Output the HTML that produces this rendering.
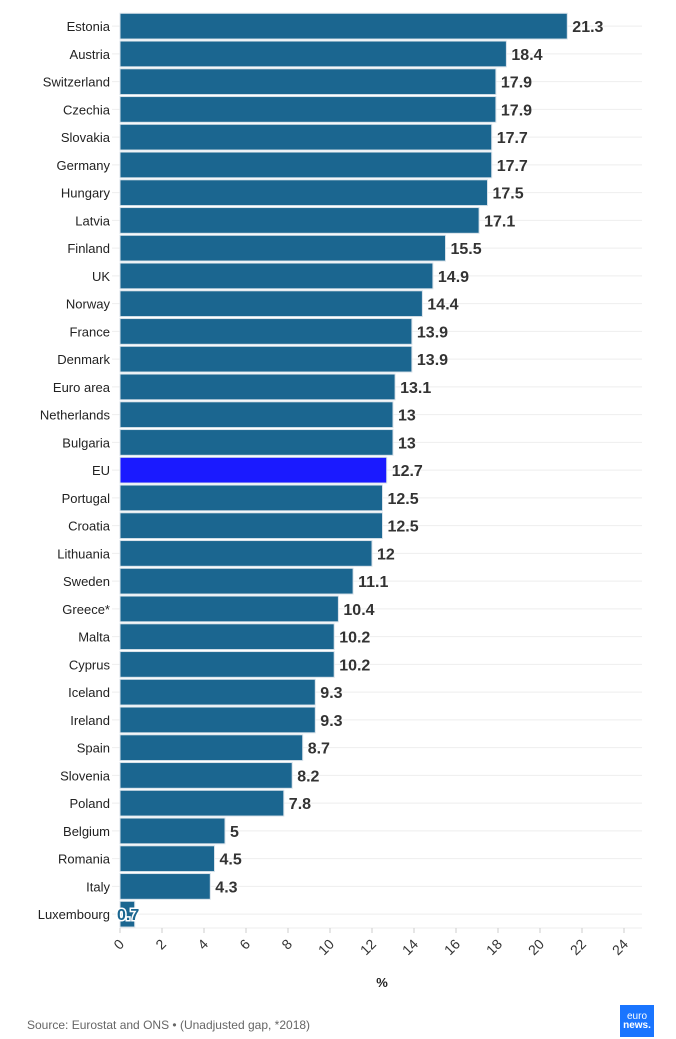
<!DOCTYPE html>
<html><head><meta charset="utf-8"><style>
body{margin:0;width:676px;height:1039px;background:#fff;font-family:"Liberation Sans","DejaVu Sans",sans-serif;overflow:hidden}
</style></head><body>
<svg id="c" width="676" height="1039" style="position:absolute;left:0;top:0"></svg>
<div style="position:absolute;left:27px;top:1018px;font-size:12px;color:#666">Source: Eurostat and ONS • (Unadjusted gap, *2018)</div>
<div style="position:absolute;left:620px;top:1005px;width:34px;height:32px;background:#1a75ff;color:#fff;font-size:10px;line-height:9px;padding-top:7px;box-sizing:border-box;text-align:center">euro<br><b>news.</b></div>
<script>
const countries=["Estonia","Austria","Switzerland","Czechia","Slovakia","Germany","Hungary","Latvia","Finland","UK","Norway","France","Denmark","Euro area","Netherlands","Bulgaria","EU","Portugal","Croatia","Lithuania","Sweden","Greece*","Malta","Cyprus","Iceland","Ireland","Spain","Slovenia","Poland","Belgium","Romania","Italy","Luxembourg"];
const values=[21.3,18.4,17.9,17.9,17.7,17.7,17.5,17.1,15.5,14.9,14.4,13.9,13.9,13.1,13,13,12.7,12.5,12.5,12,11.1,10.4,10.2,10.2,9.3,9.3,8.7,8.2,7.8,5,4.5,4.3,0.7];
const ticks=[0,2,4,6,8,10,12,14,16,18,20,22,24];
const NS="http://www.w3.org/2000/svg",svg=document.getElementById("c");
const x=v=>120+v*21, band=27.75, y0=12.3;
function mk(t,a,txt){const e=document.createElementNS(NS,t);for(const k in a)e.setAttribute(k,a[k]);if(txt!=null)e.textContent=txt;svg.appendChild(e);return e;}
countries.forEach((c,i)=>{
 const yc=y0+i*band+band/2;
 const g=mk("line",{x1:112,x2:642,y1:yc,y2:yc,stroke:"#eee"});
 
});
const ax=mk("line",{x1:120,x2:642,y1:928,y2:928,stroke:"#eee"});

countries.forEach((c,i)=>{
 const yt=y0+i*band+1, yc=y0+i*band+band/2;
 const r=mk("rect",{x:120,y:yt,width:x(values[i])-120,height:band-2,fill:c==="EU"?"#1a1aff":"#1b6690",stroke:"#d8e2ea","stroke-width":1});
 
 
 const l=mk("text",{x:110,y:yc+5,"text-anchor":"end","font-size":13,fill:"#222"},c);
 
 const small=values[i]<2;
 const v=mk("text",{x:small?117:x(values[i])+5,y:yc+6,"font-size":16,"font-weight":"bold",fill:small?"#1b6690":"#333",stroke:small?"#fff":"none","stroke-width":small?3:0,"paint-order":"stroke"},String(values[i]));
 
});
ticks.forEach(t=>{
 const tk=mk("line",{x1:x(t),x2:x(t),y1:928,y2:933,stroke:"#ccc"});
 
 const tl=mk("text",{x:x(t)+5,y:945,"text-anchor":"end","font-size":14,fill:"#333",transform:`rotate(-45 ${x(t)+5} 945)`},String(t));
 
});
const xt=mk("text",{x:382,y:987,"text-anchor":"middle","font-size":13,"font-weight":"bold",fill:"#222"},"%");

</script>
</body></html>
